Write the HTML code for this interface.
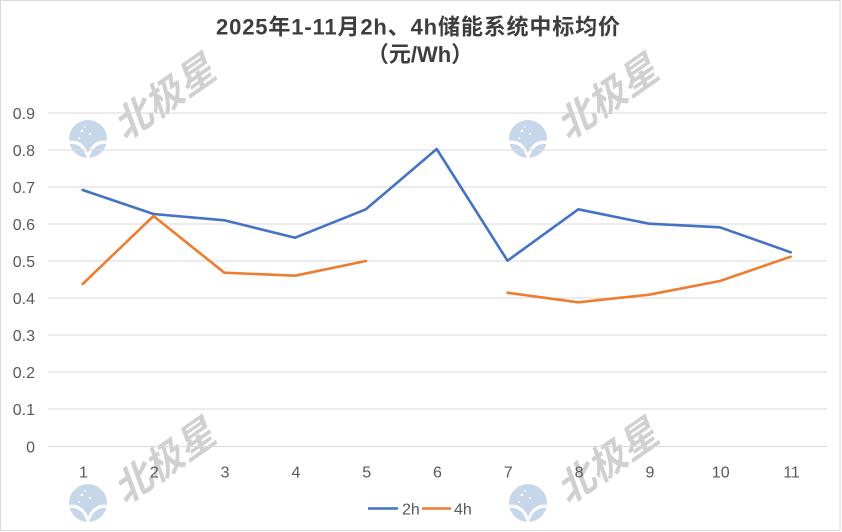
<!DOCTYPE html>
<html>
<head>
<meta charset="utf-8">
<style>
  html,body{margin:0;padding:0;background:#fff;}
  svg{display:block;}
  text{font-family:"Liberation Sans","Noto Sans CJK SC",sans-serif;}
</style>
</head>
<body>
<svg width="842" height="532" viewBox="0 0 842 532" xmlns="http://www.w3.org/2000/svg">
  <rect x="0" y="0" width="842" height="532" fill="#ffffff"/>
  <rect x="0.5" y="0.5" width="839.5" height="530" fill="none" stroke="#d9d9d9" stroke-width="1"/>

  <!-- watermarks -->
  <defs>
    <g id="logo">
      <circle cx="0" cy="0" r="19" fill="#c7d7ea"/>
      <path d="M-19,2 C-10,0 -3,6 0,14 C3,6 10,0 19,2 L19,5 C10,4 4,9 1,19 L-1,19 C-4,9 -10,4 -19,5 Z" fill="#ffffff"/>
      <circle cx="-6" cy="-8" r="1.3" fill="#ffffff"/>
      <circle cx="2" cy="-5" r="1" fill="#ffffff"/>
      <circle cx="-9" cy="-1" r="1" fill="#ffffff"/>
      <circle cx="-3" cy="-12" r="0.9" fill="#ffffff"/>
    </g>
  </defs>
  <g>
    <use href="#logo" x="88" y="139"/>
    <use href="#logo" x="528" y="139"/>
    <use href="#logo" x="88" y="503"/>
    <use href="#logo" x="528" y="503"/>
    <g transform="translate(167 96) rotate(-35) skewX(-15)"><text x="0" y="13" font-size="38" font-weight="bold" fill="#d0d0d0" text-anchor="middle">北极星</text></g>
    <g transform="translate(610 96) rotate(-35) skewX(-15)"><text x="0" y="13" font-size="38" font-weight="bold" fill="#d0d0d0" text-anchor="middle">北极星</text></g>
    <g transform="translate(167 460) rotate(-35) skewX(-15)"><text x="0" y="13" font-size="38" font-weight="bold" fill="#d0d0d0" text-anchor="middle">北极星</text></g>
    <g transform="translate(610 460) rotate(-35) skewX(-15)"><text x="0" y="13" font-size="38" font-weight="bold" fill="#d0d0d0" text-anchor="middle">北极星</text></g>
  </g>

  <!-- title -->
  <text x="216" y="34.5" font-size="22" font-weight="bold" fill="#3d3d3d" textLength="404" lengthAdjust="spacing">2025年1-11月2h、4h储能系统中标均价</text>
  <text x="420" y="62" font-size="22" font-weight="bold" fill="#3d3d3d" text-anchor="middle">（元/Wh）</text>

  <!-- gridlines -->
  <g stroke="#d9d9d9" stroke-width="1">
    <line x1="48" y1="113" x2="827" y2="113"/>
    <line x1="48" y1="150" x2="827" y2="150"/>
    <line x1="48" y1="187" x2="827" y2="187"/>
    <line x1="48" y1="224" x2="827" y2="224"/>
    <line x1="48" y1="261" x2="827" y2="261"/>
    <line x1="48" y1="298" x2="827" y2="298"/>
    <line x1="48" y1="335" x2="827" y2="335"/>
    <line x1="48" y1="372" x2="827" y2="372"/>
    <line x1="48" y1="409" x2="827" y2="409"/>
    <line x1="48" y1="446.5" x2="827" y2="446.5"/>
  </g>

  <!-- y labels -->
  <g font-size="16" fill="#595959" text-anchor="end">
    <text x="35" y="119">0.9</text>
    <text x="35" y="156">0.8</text>
    <text x="35" y="193">0.7</text>
    <text x="35" y="230">0.6</text>
    <text x="35" y="267">0.5</text>
    <text x="35" y="304">0.4</text>
    <text x="35" y="341">0.3</text>
    <text x="35" y="378">0.2</text>
    <text x="35" y="415">0.1</text>
    <text x="35" y="452.5">0</text>
  </g>

  <!-- x labels -->
  <g font-size="16" fill="#595959" text-anchor="middle">
    <text x="83.5" y="477.5">1</text>
    <text x="154.3" y="477.5">2</text>
    <text x="225.1" y="477.5">3</text>
    <text x="295.9" y="477.5">4</text>
    <text x="366.7" y="477.5">5</text>
    <text x="437.5" y="477.5">6</text>
    <text x="508.3" y="477.5">7</text>
    <text x="579.1" y="477.5">8</text>
    <text x="649.9" y="477.5">9</text>
    <text x="720.7" y="477.5">10</text>
    <text x="791.5" y="477.5">11</text>
  </g>

  <!-- series -->
  <polyline fill="none" stroke="#4472c4" stroke-width="2.6" stroke-linejoin="round" stroke-linecap="round"
    points="82.7,190 153.5,214 224.3,220.3 295.1,237.7 365.9,209.3 436.7,149 507.5,260.7 578.3,209.3 649.1,223.7 719.9,227.3 790.7,252.3"/>
  <polyline fill="none" stroke="#ed7d31" stroke-width="2.6" stroke-linejoin="round" stroke-linecap="round"
    points="82.7,284 153.5,216 224.3,272.7 295.1,275.7 365.9,261"/>
  <polyline fill="none" stroke="#ed7d31" stroke-width="2.6" stroke-linejoin="round" stroke-linecap="round"
    points="507.5,292.7 578.3,302.3 649.1,294.7 719.9,281 790.7,256.7"/>

  <!-- legend -->
  <line x1="368" y1="508.5" x2="398" y2="508.5" stroke="#4472c4" stroke-width="2.6"/>
  <text x="402" y="514.5" font-size="16" fill="#595959">2h</text>
  <line x1="422" y1="508.5" x2="451" y2="508.5" stroke="#ed7d31" stroke-width="2.6"/>
  <text x="454" y="514.5" font-size="16" fill="#595959">4h</text>
</svg>
</body>
</html>
